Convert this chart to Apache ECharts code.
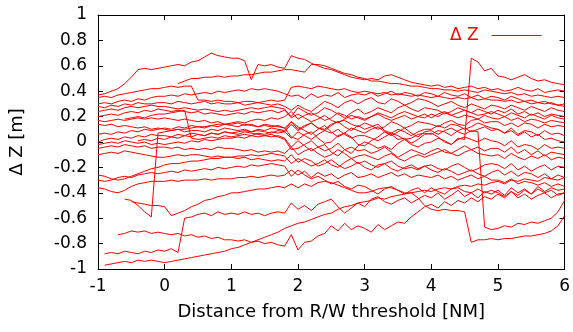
<!DOCTYPE html>
<html><head><meta charset="utf-8">
<script src="https://cdn.jsdelivr.net/npm/echarts@6/dist/echarts.min.js"></script>
<style>html,body{margin:0;padding:0;background:#fff}#c{width:573px;height:332px}</style>
</head><body><div id="c"></div>
<script>
const distances = [-1,-0.9,-0.8,-0.7,-0.6,-0.5,-0.4,-0.3,-0.2,-0.1,
0,0.1,0.2,0.3,0.4,0.5,0.6,0.7,0.8,0.9,
1,1.1,1.2,1.3,1.4,1.5,1.6,1.7,1.8,1.9,
2,2.1,2.2,2.3,2.4,2.5,2.6,2.7,2.8,2.9,
3,3.1,3.2,3.3,3.4,3.5,3.6,3.7,3.8,3.9,
4,4.1,4.2,4.3,4.4,4.5,4.6,4.7,4.8,4.9,
5,5.1,5.2,5.3,5.4,5.5,5.6,5.7,5.8,5.9,
6];
const track01 = [0.37,0.38,0.40,0.42,0.46,0.51,0.57,0.58,0.57,0.58,
0.59,0.60,0.61,0.60,0.63,0.64,0.67,0.70,0.68,0.67,
0.66,0.66,0.64,0.49,0.61,0.60,0.61,0.59,0.58,0.68,
0.66,0.65,0.62,0.60,0.58,0.57,0.55,0.53,0.51,0.50,
0.49,0.50,0.49,0.52,0.53,0.51,0.49,0.47,0.46,0.45,
0.44,0.45,0.43,0.44,0.42,0.43,0.44,0.42,0.43,0.41,
0.42,0.40,0.41,0.43,0.41,0.40,0.42,0.39,0.40,0.41,
0.40];
const track02 = [null,null,null,null,null,null,null,null,null,null,
null,null,0.46,0.48,0.50,0.50,0.51,0.51,0.52,0.51,
0.52,0.52,0.53,0.53,0.54,0.55,0.55,0.56,0.57,0.57,
0.56,0.55,0.61,0.61,0.60,0.58,0.56,0.54,0.53,0.51,
0.50,0.48,0.48,0.47,0.46,0.46,0.45,0.44,0.44,0.43,
0.42,0.42,0.41,0.41,0.40,0.41,0.40,0.39,0.41,0.40,
0.39,0.38,0.39,0.37,0.38,0.36,0.37,0.36,0.35,0.36,
0.35];
const track03 = [0.06,0.07,0.06,0.08,0.07,0.09,0.08,0.10,0.09,0.10,
0.11,0.10,0.12,0.11,0.13,0.12,0.11,0.13,0.12,0.14,
0.13,0.12,0.14,0.13,0.12,0.14,0.13,0.12,0.11,0.04,
0.02,0.06,0.08,0.03,-0.01,0.00,0.05,0.07,0.04,-0.02,
-0.03,0.01,0.04,0.08,0.06,0.02,0.03,-0.01,0.02,0.06,
0.07,0.04,0.00,-0.02,0.03,0.02,0.66,0.63,0.56,0.58,
0.52,0.51,0.49,0.51,0.53,0.50,0.48,0.49,0.47,0.46,
0.45];
const track04 = [0.35,0.36,0.35,0.37,0.38,0.39,0.40,0.41,0.42,0.42,
0.43,0.44,0.43,0.44,0.44,0.33,0.33,0.32,0.33,0.32,
0.32,0.31,0.32,0.32,0.31,0.32,0.33,0.32,0.33,0.43,
0.44,0.43,0.42,0.44,0.43,0.42,0.41,0.42,0.40,0.39,
0.40,0.39,0.38,0.39,0.37,0.38,0.37,0.36,0.37,0.36,
0.35,0.36,0.35,0.34,0.35,0.34,0.35,0.33,0.34,0.33,
0.33,0.32,0.33,0.31,0.32,0.30,0.31,0.30,0.31,0.29,
0.30];
const track05 = [0.30,0.31,0.30,0.32,0.33,0.32,0.34,0.33,0.35,0.36,
0.36,0.37,0.36,0.38,0.37,0.38,0.39,0.38,0.40,0.39,
0.40,0.41,0.40,0.42,0.41,0.42,0.41,0.40,0.38,0.36,
0.37,0.34,0.38,0.35,0.37,0.36,0.39,0.35,0.37,0.38,
0.37,0.39,0.36,0.38,0.40,0.37,0.39,0.38,0.36,0.39,
0.38,0.36,0.39,0.37,0.36,0.38,0.35,0.37,0.34,0.36,
0.35,0.33,0.36,0.34,0.32,0.33,0.31,0.32,0.30,0.29,
0.28];
const track06 = [0.28,0.27,0.29,0.28,0.30,0.29,0.31,0.30,0.30,0.31,
0.31,0.30,0.32,0.31,0.30,0.31,0.32,0.30,0.31,0.30,
0.30,0.31,0.29,0.30,0.31,0.30,0.29,0.30,0.28,0.25,
0.29,0.26,0.24,0.28,0.32,0.30,0.27,0.31,0.33,0.30,
0.33,0.35,0.31,0.30,0.34,0.32,0.29,0.31,0.34,0.33,
0.31,0.28,0.30,0.32,0.29,0.27,0.30,0.28,0.26,0.29,
0.28,0.26,0.29,0.27,0.25,0.28,0.26,0.24,0.27,0.25,
0.24];
const track07 = [0.20,0.21,0.22,0.21,0.23,0.24,0.23,0.25,0.24,0.26,
0.25,0.24,0.25,0.24,0.23,0.24,0.22,0.23,0.22,0.21,
0.22,0.23,0.22,0.24,0.23,0.24,0.25,0.23,0.25,0.20,
0.27,0.24,0.21,0.23,0.27,0.25,0.22,0.19,0.23,0.26,
0.22,0.24,0.27,0.25,0.23,0.27,0.29,0.26,0.24,0.27,
0.26,0.25,0.22,0.24,0.27,0.25,0.23,0.21,0.22,0.24,
0.22,0.20,0.23,0.21,0.19,0.22,0.20,0.18,0.21,0.19,
0.18];
const track08 = [0.17,0.16,0.17,0.18,0.17,0.18,0.19,0.18,0.19,0.18,
0.19,0.18,0.17,0.18,0.17,0.16,0.17,0.15,0.16,0.14,
0.14,0.15,0.13,0.14,0.12,0.13,0.12,0.13,0.11,0.16,
0.10,0.13,0.15,0.11,0.09,0.13,0.16,0.17,0.14,0.12,
0.15,0.13,0.10,0.12,0.16,0.14,0.11,0.13,0.16,0.15,
0.14,0.12,0.15,0.17,0.14,0.13,0.17,0.18,0.15,0.16,
0.16,0.13,0.15,0.12,0.15,0.14,0.11,0.14,0.12,0.13,
0.12];
const track09 = [0.14,0.13,0.14,0.12,0.13,0.12,0.11,0.12,0.10,0.11,
0.10,0.09,0.10,0.08,0.09,0.09,0.08,0.10,0.09,0.11,
0.10,0.09,0.10,0.08,0.09,0.08,0.07,0.09,0.08,0.03,
0.08,0.05,0.02,0.06,0.09,0.07,0.10,0.06,0.03,0.05,
0.05,0.03,0.01,0.04,0.07,0.05,0.02,0.03,0.06,0.07,
0.06,0.09,0.08,0.05,0.09,0.11,0.08,0.10,0.12,0.09,
0.10,0.07,0.11,0.06,0.09,0.08,0.05,0.09,0.06,0.07,
0.05];
const track10 = [null,null,null,null,0.18,0.19,0.20,0.19,0.21,0.22,
0.22,0.23,0.24,0.25,0.03,0.02,0.03,0.04,0.03,0.05,
0.04,0.05,0.06,0.05,0.07,0.06,0.08,0.07,0.08,0.14,
0.09,0.12,0.15,0.11,0.10,0.14,0.16,0.12,0.09,0.13,
0.10,0.12,0.14,0.09,0.07,0.10,0.08,0.05,0.08,0.10,
0.10,0.13,0.11,0.14,0.13,0.10,0.12,0.15,0.13,0.11,
0.10,0.07,0.09,0.05,0.08,0.04,0.06,0.02,0.03,0.01,
0.00];
const track11 = [-0.02,-0.01,0.00,-0.01,0.01,0.00,-0.01,0.00,-0.02,-0.01,
-0.02,-0.01,0.00,-0.01,0.01,0.00,0.02,0.01,0.02,0.03,
0.03,0.04,0.03,0.05,0.04,0.05,0.06,0.04,0.02,-0.06,
-0.05,-0.02,0.01,-0.04,-0.07,-0.05,-0.01,-0.06,-0.09,-0.03,
0.00,-0.02,-0.05,-0.03,-0.06,-0.01,0.02,-0.02,-0.04,-0.01,
0.00,0.03,0.01,-0.02,0.02,0.04,0.02,0.00,0.03,0.01,
0.00,-0.03,0.01,-0.04,-0.02,-0.03,-0.06,-0.02,-0.05,-0.04,
-0.05];
const track12 = [-0.05,-0.04,-0.03,-0.04,-0.02,-0.03,-0.04,-0.03,-0.05,-0.04,
-0.04,-0.05,-0.04,-0.06,-0.05,-0.06,-0.05,-0.06,-0.04,-0.05,
-0.05,-0.06,-0.07,-0.06,-0.08,-0.07,-0.08,-0.07,-0.09,-0.04,
-0.10,-0.07,-0.05,-0.09,-0.12,-0.10,-0.06,-0.09,-0.13,-0.11,
-0.10,-0.12,-0.14,-0.11,-0.09,-0.13,-0.15,-0.12,-0.10,-0.12,
-0.10,-0.08,-0.06,-0.09,-0.11,-0.08,-0.06,-0.09,-0.10,-0.11,
-0.10,-0.13,-0.09,-0.12,-0.14,-0.11,-0.13,-0.10,-0.14,-0.12,
-0.13];
const track13 = [-0.10,-0.09,-0.08,-0.09,-0.07,-0.08,-0.09,-0.10,-0.11,-0.12,
-0.12,-0.11,-0.10,-0.11,-0.10,-0.10,-0.11,-0.12,-0.11,-0.12,
-0.12,-0.13,-0.12,-0.14,-0.13,-0.14,-0.15,-0.14,-0.15,-0.10,
-0.16,-0.13,-0.15,-0.19,-0.17,-0.14,-0.18,-0.21,-0.19,-0.16,
-0.20,-0.22,-0.18,-0.17,-0.21,-0.23,-0.20,-0.18,-0.21,-0.19,
-0.18,-0.21,-0.22,-0.19,-0.17,-0.20,-0.23,-0.21,-0.18,-0.17,
-0.18,-0.21,-0.17,-0.22,-0.19,-0.23,-0.20,-0.18,-0.22,-0.19,
-0.20];
const track14 = [-0.26,-0.27,-0.29,-0.30,-0.29,-0.27,-0.25,-0.23,-0.21,-0.20,
-0.18,-0.17,-0.17,-0.16,-0.15,-0.15,-0.14,-0.13,-0.13,-0.12,
-0.12,-0.11,-0.11,-0.10,-0.11,-0.10,-0.09,-0.10,-0.11,-0.17,
-0.13,-0.16,-0.19,-0.17,-0.14,-0.18,-0.20,-0.16,-0.13,-0.17,
-0.15,-0.18,-0.20,-0.17,-0.15,-0.19,-0.21,-0.20,-0.22,-0.19,
-0.22,-0.24,-0.21,-0.23,-0.26,-0.24,-0.22,-0.25,-0.27,-0.24,
-0.22,-0.26,-0.23,-0.27,-0.24,-0.25,-0.28,-0.25,-0.29,-0.26,
-0.28];
const track15 = [-0.36,-0.37,-0.39,-0.40,-0.38,-0.35,-0.33,-0.32,-0.31,-0.31,
-0.31,-0.30,-0.31,-0.30,-0.30,-0.30,-0.29,-0.30,-0.29,-0.29,
-0.29,-0.28,-0.28,-0.27,-0.28,-0.27,-0.26,-0.27,-0.26,-0.22,
-0.26,-0.23,-0.28,-0.24,-0.27,-0.25,-0.29,-0.26,-0.24,-0.28,
-0.27,-0.25,-0.28,-0.26,-0.24,-0.27,-0.25,-0.28,-0.26,-0.27,
-0.28,-0.26,-0.29,-0.27,-0.30,-0.28,-0.26,-0.29,-0.27,-0.30,
-0.30,-0.32,-0.29,-0.33,-0.31,-0.32,-0.34,-0.32,-0.35,-0.33,
-0.35];
const track16 = [null,null,null,null,-0.45,-0.46,-0.50,-0.55,-0.59,0.07,
0.08,0.09,0.10,0.10,0.11,0.12,0.12,0.13,0.14,0.14,
0.15,0.16,0.15,0.17,0.18,0.17,0.19,0.18,0.20,0.24,
0.18,0.21,0.23,0.20,0.17,0.19,0.23,0.21,0.18,0.20,
0.18,0.20,0.23,0.21,0.19,0.22,0.24,0.22,0.20,0.19,
0.22,0.20,0.23,0.21,0.19,0.21,0.20,0.18,0.21,0.19,
0.18,0.20,0.17,0.19,0.16,0.18,0.17,0.15,0.17,0.16,
0.15];
const track17 = [null,null,null,null,null,-0.47,-0.48,-0.49,-0.50,-0.50,
-0.51,-0.58,-0.56,-0.54,-0.51,-0.49,-0.46,-0.45,-0.43,-0.42,
-0.40,-0.40,-0.39,-0.38,-0.37,-0.37,-0.36,-0.35,-0.36,-0.33,
-0.36,-0.33,-0.35,-0.32,-0.31,-0.32,-0.34,-0.36,-0.38,-0.40,
-0.40,-0.39,-0.37,-0.36,-0.36,-0.38,-0.40,-0.40,-0.44,-0.50,
-0.53,-0.54,-0.53,-0.54,-0.54,-0.55,-0.79,-0.77,-0.77,-0.76,
-0.77,-0.76,-0.76,-0.75,-0.74,-0.74,-0.73,-0.72,-0.70,-0.66,
-0.58];
const track18 = [null,-0.88,-0.87,-0.88,-0.86,-0.87,-0.88,-0.86,-0.87,-0.85,
-0.86,-0.84,-0.87,-0.60,-0.59,-0.57,-0.56,-0.58,-0.55,-0.57,
-0.56,-0.57,-0.55,-0.57,-0.56,-0.58,-0.56,-0.55,-0.56,-0.48,
-0.53,-0.50,-0.54,-0.49,-0.47,-0.45,-0.51,-0.56,-0.52,-0.48,
-0.51,-0.45,-0.43,-0.47,-0.49,-0.46,-0.44,-0.48,-0.45,-0.42,
-0.44,-0.40,-0.45,-0.42,-0.38,-0.43,-0.40,-0.44,-0.39,-0.41,
-0.38,-0.42,-0.36,-0.40,-0.37,-0.41,-0.35,-0.39,-0.36,-0.38,
-0.37];
const track19 = [null,null,null,-0.73,-0.72,-0.70,-0.71,-0.70,-0.72,-0.71,
-0.72,-0.73,-0.72,-0.74,-0.73,-0.75,-0.74,-0.76,-0.75,-0.77,
-0.77,-0.78,-0.77,-0.79,-0.78,-0.80,-0.79,-0.81,-0.82,-0.73,
-0.85,-0.79,-0.78,-0.74,-0.72,-0.66,-0.70,-0.64,-0.69,-0.66,
-0.68,-0.71,-0.65,-0.69,-0.66,-0.63,-0.64,-0.59,-0.55,-0.51,
-0.49,-0.52,-0.47,-0.50,-0.46,-0.48,-0.44,-0.47,-0.43,-0.45,
-0.41,-0.44,-0.39,-0.42,-0.38,-0.41,-0.37,-0.40,-0.38,-0.42,
-0.40];
const track20 = [null,-0.97,-0.96,-0.95,-0.94,-0.95,-0.93,-0.94,-0.93,-0.94,
-0.95,-0.94,-0.93,-0.92,-0.91,-0.90,-0.89,-0.88,-0.87,-0.86,
-0.84,-0.83,-0.81,-0.79,-0.77,-0.75,-0.73,-0.71,-0.68,-0.66,
-0.64,-0.63,-0.61,-0.59,-0.57,-0.56,-0.53,-0.51,-0.50,-0.48,
-0.47,-0.46,-0.44,-0.45,-0.43,-0.42,-0.41,-0.40,-0.39,-0.38,
-0.39,-0.37,-0.36,-0.37,-0.35,-0.34,-0.35,-0.33,-0.34,-0.32,
-0.31,-0.33,-0.30,-0.31,-0.29,-0.30,-0.31,-0.28,-0.29,-0.30,
-0.28];
const track21 = [null,null,null,null,null,null,0.01,0.02,0.01,0.03,
0.02,0.04,0.03,0.05,0.04,0.06,0.05,0.07,0.06,0.08,
0.07,0.08,0.09,0.08,0.10,0.09,0.11,0.10,0.09,0.16,
0.12,0.09,0.06,0.10,0.13,0.08,0.04,0.07,0.11,0.09,
0.07,0.10,0.12,0.08,0.05,0.08,0.11,0.07,0.04,0.08,
0.09,0.06,0.09,0.11,0.08,0.06,0.09,0.08,-0.67,-0.69,
-0.68,-0.66,-0.67,-0.64,-0.65,-0.63,-0.64,-0.62,-0.60,-0.55,
-0.46];
const track22 = [-0.30,-0.31,-0.30,-0.28,-0.27,-0.28,-0.26,-0.25,-0.24,-0.25,
-0.24,-0.23,-0.24,-0.22,-0.23,-0.22,-0.21,-0.22,-0.20,-0.21,
-0.20,-0.19,-0.20,-0.18,-0.19,-0.18,-0.17,-0.18,-0.19,-0.27,
-0.22,-0.26,-0.29,-0.27,-0.30,-0.33,-0.31,-0.35,-0.37,-0.34,
-0.35,-0.38,-0.41,-0.37,-0.35,-0.38,-0.41,-0.38,-0.36,-0.40,
-0.36,-0.39,-0.41,-0.37,-0.36,-0.39,-0.40,-0.37,-0.40,-0.38,
-0.40,-0.43,-0.39,-0.44,-0.41,-0.45,-0.42,-0.40,-0.44,-0.41,
-0.40];
const track23 = [0.00,0.02,0.03,0.02,0.04,0.03,0.05,0.04,0.06,0.05,
0.05,0.04,0.06,0.05,0.07,0.06,0.05,0.07,0.06,0.08,
0.07,0.06,0.08,0.07,0.06,0.05,0.04,0.05,0.03,-0.04,
0.01,-0.03,-0.07,-0.04,-0.02,-0.08,-0.11,-0.06,-0.04,-0.07,
-0.06,-0.09,-0.07,-0.04,-0.08,-0.12,-0.09,-0.06,-0.08,-0.10,
-0.07,-0.05,-0.08,-0.09,-0.06,-0.03,-0.06,-0.04,-0.07,-0.05,
-0.05,-0.08,-0.04,-0.09,-0.06,-0.10,-0.07,-0.11,-0.08,-0.09,
-0.10];
const track24 = [0.24,0.25,0.26,0.25,0.27,0.28,0.27,0.28,0.29,0.28,
0.28,0.27,0.26,0.27,0.26,0.25,0.26,0.25,0.24,0.25,
0.24,0.25,0.26,0.27,0.26,0.27,0.28,0.27,0.26,0.19,
0.22,0.19,0.16,0.18,0.21,0.17,0.15,0.18,0.21,0.19,
0.17,0.20,0.22,0.19,0.17,0.19,0.21,0.18,0.20,0.22,
0.19,0.22,0.24,0.21,0.23,0.25,0.23,0.26,0.24,0.22,
0.25,0.23,0.26,0.22,0.24,0.21,0.23,0.20,0.22,0.21,
0.20];
const seriesName = 'Δ Z';
const xTicks = [-1,0,1,2,3,4,5,6];
const yTicks = [-1,-0.8,-0.6,-0.4,-0.2,0,0.2,0.4,0.6,0.8,1];
const tracks = [track01,track02,track03,track04,track05,track06,track07,track08,
  track09,track10,track11,track12,track13,track14,track15,track16,
  track17,track18,track19,track20,track21,track22,track23,track24];

const font = 'DejaVu Sans';
const black = '#000';
const red = '#ff0000';

function xAx(pos, labels) {
  return {
    type: 'value', position: pos,
    min: xTicks[0], max: xTicks[xTicks.length - 1], interval: xTicks[1] - xTicks[0],
    axisLine: { show: true, onZero: false, lineStyle: { color: black, width: 1 } },
    axisTick: { show: true, inside: true, length: 5, lineStyle: { color: black, width: 1 } },
    axisLabel: { show: labels, color: black, fontFamily: font, fontSize: 17, margin: 9 },
    splitLine: { show: false }
  };
}
function yAx(pos, labels) {
  return {
    type: 'value', position: pos,
    min: yTicks[0], max: yTicks[yTicks.length - 1], interval: 0.2,
    axisLine: { show: true, onZero: false, lineStyle: { color: black, width: 1 } },
    axisTick: { show: true, inside: true, length: 5, lineStyle: { color: black, width: 1 } },
    axisLabel: { show: labels, color: black, fontFamily: font, fontSize: 17, margin: 11 },
    splitLine: { show: false }
  };
}
const xBottom = xAx('bottom', true);
xBottom.name = 'Distance from R/W threshold [NM]';
xBottom.nameLocation = 'middle';
xBottom.nameGap = 34;
xBottom.nameTextStyle = { color: black, fontFamily: font, fontSize: 18 };
const yLeft = yAx('left', true);
yLeft.name = 'Δ Z [m]';
yLeft.nameLocation = 'middle';
yLeft.nameGap = 72;
yLeft.nameTextStyle = { color: black, fontFamily: font, fontSize: 18 };

const series = tracks.map(function (t) {
  const pts = [];
  for (let i = 0; i < distances.length; i++) {
    if (t[i] !== null) pts.push([distances[i], t[i]]);
  }
  return {
    type: 'line', name: seriesName, data: pts,
    xAxisIndex: 0, yAxisIndex: 0,
    symbol: 'none', showSymbol: false,
    lineStyle: { color: red, width: 1 },
    itemStyle: { color: red },
    silent: true, animation: false
  };
});

const chart = echarts.init(document.getElementById('c'), null, { renderer: 'canvas' });
chart.setOption({
  animation: false,
  backgroundColor: '#fff',
  grid: { left: 98, right: 7, top: 15, bottom: 63, containLabel: false },
  legend: {
    data: [{ name: seriesName, icon: 'rect' }],
    left: 445, top: 22,
    itemWidth: 50, itemHeight: 1,
    align: 'right',
    selectedMode: false,
    textStyle: { color: red, fontFamily: font, fontSize: 17, padding: [0, 8, 0, 0] }
  },
  xAxis: [xBottom, xAx('top', false)],
  yAxis: [yLeft, yAx('right', false)],
  series: series
});
</script></body></html>
